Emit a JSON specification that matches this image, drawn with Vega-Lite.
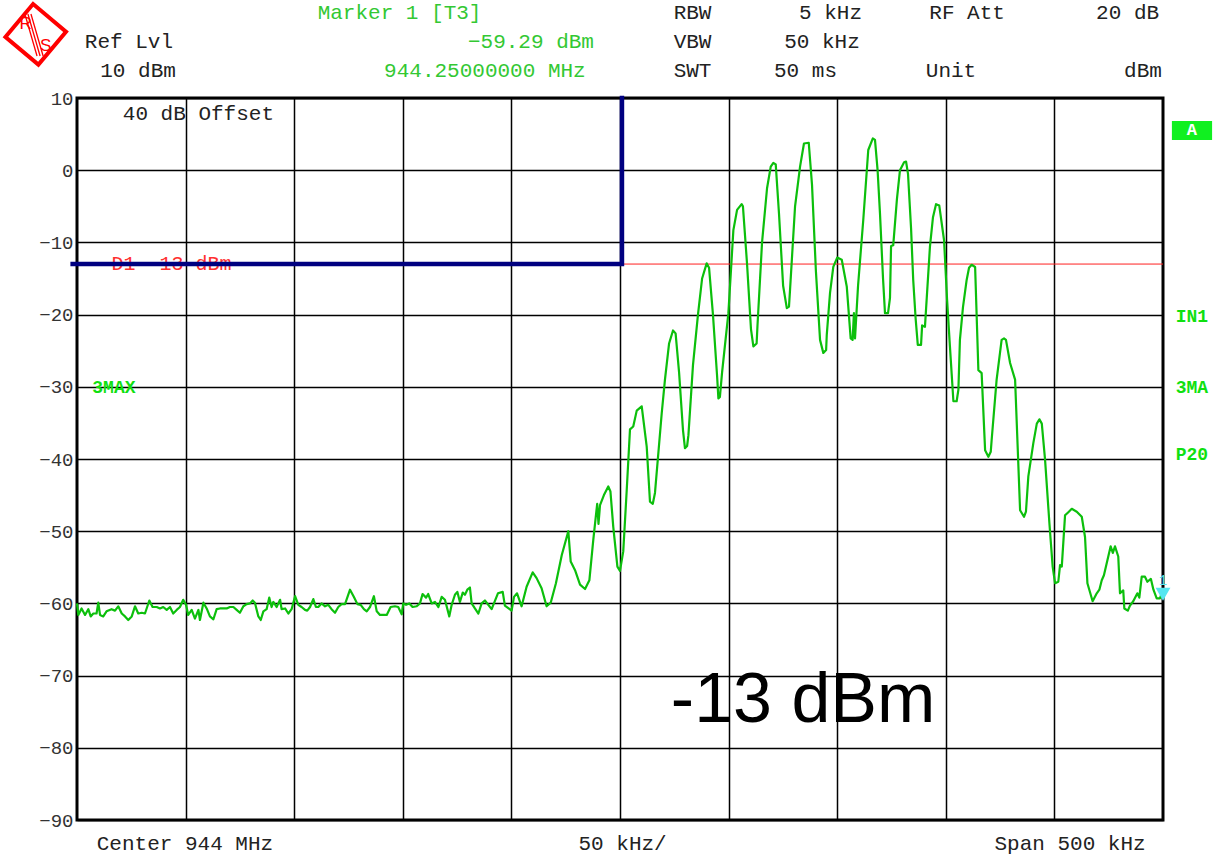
{
  "$schema": "https://vega.github.io/schema/vega-lite/v6.json",
  "width": 1086,
  "height": 722,
  "autosize": {"type": "none"},
  "padding": {"left": 77, "top": 98, "right": 54, "bottom": 36},
  "background": "white",
  "config": {
    "view": {"stroke": "#000", "strokeWidth": 3},
    "text": {"font": "Liberation Mono"}
  },
  "datasets": {
    "trace": [
      {"f": -250, "v": -60.0}, {"f": -249.4, "v": -61.6}, {"f": -247.9, "v": -60.7}, {"f": -246.3, "v": -61.6},
      {"f": -244.8, "v": -60.8}, {"f": -243.7, "v": -61.8}, {"f": -242.5, "v": -61.4}, {"f": -241.0, "v": -61.4},
      {"f": -240.2, "v": -59.9}, {"f": -239.4, "v": -61.6}, {"f": -237.9, "v": -61.8}, {"f": -236.4, "v": -61.1},
      {"f": -234.1, "v": -60.8}, {"f": -232.5, "v": -61.0}, {"f": -231.0, "v": -60.4}, {"f": -229.4, "v": -61.4},
      {"f": -227.9, "v": -61.8}, {"f": -226.4, "v": -62.3}, {"f": -224.8, "v": -61.8}, {"f": -223.3, "v": -60.4},
      {"f": -221.8, "v": -61.4}, {"f": -220.2, "v": -61.3}, {"f": -218.7, "v": -61.4}, {"f": -216.7, "v": -59.6},
      {"f": -215.2, "v": -60.5}, {"f": -213.3, "v": -60.5}, {"f": -211.8, "v": -60.7}, {"f": -210.3, "v": -60.5},
      {"f": -208.7, "v": -60.9}, {"f": -207.2, "v": -60.5}, {"f": -205.7, "v": -61.4}, {"f": -204.1, "v": -60.9},
      {"f": -202.6, "v": -60.5}, {"f": -201.1, "v": -59.5}, {"f": -199.8, "v": -60.2}, {"f": -198.8, "v": -61.6},
      {"f": -197.2, "v": -60.9}, {"f": -195.7, "v": -62.1}, {"f": -194.1, "v": -60.9}, {"f": -193.4, "v": -62.3},
      {"f": -191.8, "v": -59.9}, {"f": -190.3, "v": -60.7}, {"f": -188.8, "v": -61.8}, {"f": -187.2, "v": -62.2},
      {"f": -185.7, "v": -60.8}, {"f": -184.2, "v": -60.7}, {"f": -182.6, "v": -60.7}, {"f": -181.1, "v": -60.7},
      {"f": -179.6, "v": -60.5}, {"f": -178.0, "v": -60.5}, {"f": -176.5, "v": -60.9}, {"f": -175.0, "v": -61.3},
      {"f": -173.4, "v": -60.4}, {"f": -171.9, "v": -60.1}, {"f": -170.4, "v": -60.0}, {"f": -169.1, "v": -59.6},
      {"f": -168.1, "v": -59.9}, {"f": -166.5, "v": -61.8}, {"f": -165.4, "v": -62.3}, {"f": -164.2, "v": -61.1},
      {"f": -162.7, "v": -60.8}, {"f": -161.5, "v": -59.2}, {"f": -160.4, "v": -60.5}, {"f": -159.6, "v": -59.8},
      {"f": -158.1, "v": -60.5}, {"f": -156.5, "v": -59.5}, {"f": -155.8, "v": -60.8}, {"f": -154.2, "v": -60.7},
      {"f": -152.7, "v": -61.4}, {"f": -151.2, "v": -60.8}, {"f": -149.6, "v": -59.0}, {"f": -148.1, "v": -60.2},
      {"f": -146.6, "v": -60.5}, {"f": -145.0, "v": -60.9}, {"f": -144.0, "v": -61.0}, {"f": -142.7, "v": -60.5},
      {"f": -141.2, "v": -59.4}, {"f": -140.0, "v": -60.5}, {"f": -138.9, "v": -60.5}, {"f": -137.4, "v": -60.0},
      {"f": -135.8, "v": -60.4}, {"f": -134.3, "v": -60.2}, {"f": -132.8, "v": -60.8}, {"f": -131.2, "v": -61.3},
      {"f": -129.7, "v": -60.5}, {"f": -128.2, "v": -60.1}, {"f": -126.6, "v": -60.1}, {"f": -124.3, "v": -58.1},
      {"f": -122.5, "v": -59.1}, {"f": -120.9, "v": -60.1}, {"f": -119.4, "v": -60.2}, {"f": -117.9, "v": -60.8},
      {"f": -116.6, "v": -61.1}, {"f": -115.1, "v": -60.5}, {"f": -113.3, "v": -59.0}, {"f": -112.0, "v": -61.1},
      {"f": -110.5, "v": -61.6}, {"f": -109.0, "v": -61.6}, {"f": -107.4, "v": -61.6}, {"f": -105.6, "v": -60.5},
      {"f": -103.6, "v": -60.4}, {"f": -102.1, "v": -60.5}, {"f": -100.5, "v": -61.5}, {"f": -99.8, "v": -60.0},
      {"f": -98.5, "v": -60.2}, {"f": -97.0, "v": -60.0}, {"f": -95.5, "v": -60.5}, {"f": -93.6, "v": -60.4},
      {"f": -92.1, "v": -60.0}, {"f": -90.9, "v": -58.7}, {"f": -89.3, "v": -59.2}, {"f": -88.3, "v": -58.7},
      {"f": -86.7, "v": -60.0}, {"f": -85.2, "v": -59.8}, {"f": -83.6, "v": -60.5}, {"f": -82.1, "v": -59.1},
      {"f": -80.6, "v": -59.5}, {"f": -78.6, "v": -61.8}, {"f": -77.5, "v": -60.2}, {"f": -76.0, "v": -58.8},
      {"f": -74.9, "v": -58.4}, {"f": -73.7, "v": -59.8}, {"f": -72.4, "v": -58.5}, {"f": -71.4, "v": -58.8},
      {"f": -70.3, "v": -58.1}, {"f": -69.1, "v": -57.8}, {"f": -68.3, "v": -60.0}, {"f": -66.8, "v": -60.7},
      {"f": -65.2, "v": -61.4}, {"f": -63.7, "v": -60.0}, {"f": -62.2, "v": -59.6}, {"f": -59.1, "v": -60.8},
      {"f": -56.2, "v": -58.6}, {"f": -54.0, "v": -58.4}, {"f": -53.0, "v": -60.3}, {"f": -49.9, "v": -61.0},
      {"f": -48.8, "v": -59.1}, {"f": -47.4, "v": -58.6}, {"f": -45.3, "v": -60.4}, {"f": -43.0, "v": -57.7},
      {"f": -40.2, "v": -55.7}, {"f": -38.4, "v": -56.5}, {"f": -36.1, "v": -57.9}, {"f": -33.8, "v": -60.4},
      {"f": -31.9, "v": -59.9}, {"f": -29.5, "v": -57.2}, {"f": -26.8, "v": -53.3}, {"f": -23.8, "v": -50.0},
      {"f": -22.7, "v": -54.2}, {"f": -20.7, "v": -55.4}, {"f": -18.4, "v": -57.4}, {"f": -16.1, "v": -58.0},
      {"f": -14.1, "v": -56.8}, {"f": -12.3, "v": -51.2}, {"f": -10.5, "v": -46.2}, {"f": -9.9, "v": -49.0},
      {"f": -9.2, "v": -46.4}, {"f": -7.4, "v": -45.0}, {"f": -5.4, "v": -43.8}, {"f": -4.4, "v": -44.5},
      {"f": -3.1, "v": -49.4}, {"f": -1.2, "v": -54.9}, {"f": 0.0, "v": -55.5}, {"f": 1.5, "v": -52.8},
      {"f": 3.1, "v": -44.3}, {"f": 4.6, "v": -35.9}, {"f": 6.1, "v": -35.5}, {"f": 7.7, "v": -33.3},
      {"f": 10.0, "v": -32.7}, {"f": 12.3, "v": -38.3}, {"f": 13.8, "v": -45.9}, {"f": 15.1, "v": -46.2},
      {"f": 16.1, "v": -44.7}, {"f": 19.2, "v": -33.7}, {"f": 20.7, "v": -29.0}, {"f": 22.6, "v": -24.0},
      {"f": 24.4, "v": -22.2}, {"f": 25.6, "v": -22.6}, {"f": 27.2, "v": -28.0}, {"f": 29.0, "v": -36.0},
      {"f": 29.9, "v": -38.5}, {"f": 30.9, "v": -38.2}, {"f": 31.5, "v": -36.7}, {"f": 33.6, "v": -27.0},
      {"f": 35.9, "v": -20.0}, {"f": 37.8, "v": -15.0}, {"f": 39.9, "v": -12.9}, {"f": 41.0, "v": -13.5},
      {"f": 42.8, "v": -20.0}, {"f": 44.7, "v": -28.5}, {"f": 45.3, "v": -31.6}, {"f": 46.0, "v": -31.4},
      {"f": 47.0, "v": -28.0}, {"f": 49.9, "v": -19.8}, {"f": 52.2, "v": -8.3}, {"f": 53.9, "v": -5.5},
      {"f": 56.0, "v": -4.7}, {"f": 56.6, "v": -5.0}, {"f": 58.5, "v": -13.0}, {"f": 60.3, "v": -22.0},
      {"f": 61.4, "v": -24.4}, {"f": 62.9, "v": -24.0}, {"f": 63.3, "v": -21.5}, {"f": 65.4, "v": -10.0},
      {"f": 67.7, "v": -2.5}, {"f": 69.4, "v": 0.5}, {"f": 70.6, "v": 1.0}, {"f": 71.7, "v": 0.8},
      {"f": 73.2, "v": -6.0}, {"f": 75.1, "v": -16.0}, {"f": 76.8, "v": -19.1}, {"f": 77.8, "v": -18.9},
      {"f": 78.3, "v": -16.5}, {"f": 80.6, "v": -5.0}, {"f": 82.9, "v": 0.5}, {"f": 84.7, "v": 3.7},
      {"f": 86.9, "v": 3.8}, {"f": 88.4, "v": -2.0}, {"f": 90.2, "v": -14.0}, {"f": 92.1, "v": -23.5},
      {"f": 93.6, "v": -25.3}, {"f": 94.9, "v": -24.9}, {"f": 95.2, "v": -22.8}, {"f": 96.7, "v": -17.0},
      {"f": 98.2, "v": -13.4}, {"f": 100.0, "v": -12.1}, {"f": 102.1, "v": -12.4}, {"f": 104.4, "v": -16.1},
      {"f": 106.2, "v": -23.3}, {"f": 107.1, "v": -23.5}, {"f": 107.7, "v": -19.8}, {"f": 108.2, "v": -23.3},
      {"f": 109.6, "v": -16.0}, {"f": 112.0, "v": -6.9}, {"f": 114.3, "v": 2.8}, {"f": 116.4, "v": 4.4},
      {"f": 117.4, "v": 4.2}, {"f": 118.6, "v": 0.0}, {"f": 119.7, "v": -6.0}, {"f": 121.1, "v": -15.0},
      {"f": 122.0, "v": -19.8}, {"f": 123.4, "v": -19.8}, {"f": 124.3, "v": -17.7}, {"f": 124.8, "v": -10.5},
      {"f": 125.8, "v": -10.4}, {"f": 127.5, "v": -4.0}, {"f": 128.9, "v": 0.0}, {"f": 130.8, "v": 1.1},
      {"f": 131.7, "v": 1.2}, {"f": 132.6, "v": -0.5}, {"f": 134.0, "v": -8.0}, {"f": 135.0, "v": -15.2},
      {"f": 136.1, "v": -20.5}, {"f": 137.1, "v": -24.2}, {"f": 138.6, "v": -24.2}, {"f": 139.1, "v": -21.5},
      {"f": 140.4, "v": -21.7}, {"f": 142.7, "v": -10.6}, {"f": 144.1, "v": -6.5}, {"f": 145.5, "v": -4.7},
      {"f": 147.0, "v": -4.9}, {"f": 149.2, "v": -9.7}, {"f": 150.6, "v": -18.0}, {"f": 151.9, "v": -24.4},
      {"f": 153.5, "v": -32.0}, {"f": 155.0, "v": -32.0}, {"f": 155.8, "v": -30.4}, {"f": 156.5, "v": -23.5},
      {"f": 157.9, "v": -19.0}, {"f": 159.6, "v": -15.2}, {"f": 160.7, "v": -13.5}, {"f": 161.9, "v": -13.1},
      {"f": 163.5, "v": -13.4}, {"f": 165.0, "v": -27.7}, {"f": 166.5, "v": -28.1}, {"f": 168.1, "v": -38.8},
      {"f": 169.6, "v": -39.7}, {"f": 170.7, "v": -39.0}, {"f": 171.1, "v": -37.4}, {"f": 173.4, "v": -29.0},
      {"f": 175.7, "v": -23.5}, {"f": 176.8, "v": -23.3}, {"f": 177.7, "v": -23.5}, {"f": 179.6, "v": -26.7},
      {"f": 181.9, "v": -29.0}, {"f": 184.2, "v": -47.1}, {"f": 186.0, "v": -48.0}, {"f": 186.9, "v": -47.3},
      {"f": 188.0, "v": -42.4}, {"f": 190.3, "v": -37.8}, {"f": 191.9, "v": -35.1}, {"f": 193.1, "v": -34.5},
      {"f": 194.2, "v": -35.1}, {"f": 195.7, "v": -40.1}, {"f": 197.7, "v": -48.9}, {"f": 199.2, "v": -54.9},
      {"f": 200.3, "v": -57.2}, {"f": 201.8, "v": -57.0}, {"f": 202.6, "v": -54.7}, {"f": 203.4, "v": -54.9},
      {"f": 204.9, "v": -47.8}, {"f": 206.3, "v": -47.4}, {"f": 208.0, "v": -46.9}, {"f": 210.3, "v": -47.3},
      {"f": 212.6, "v": -48.0}, {"f": 214.1, "v": -50.8}, {"f": 215.2, "v": -57.2}, {"f": 217.6, "v": -59.7},
      {"f": 219.5, "v": -58.6}, {"f": 220.7, "v": -58.1}, {"f": 221.8, "v": -56.8}, {"f": 222.8, "v": -56.1},
      {"f": 225.9, "v": -52.1}, {"f": 226.9, "v": -53.0}, {"f": 227.9, "v": -52.1}, {"f": 229.4, "v": -53.5},
      {"f": 230.2, "v": -58.6}, {"f": 231.7, "v": -58.2}, {"f": 232.2, "v": -60.7}, {"f": 233.8, "v": -61.0},
      {"f": 234.8, "v": -60.3}, {"f": 236.3, "v": -59.7}, {"f": 238.2, "v": -58.6}, {"f": 239.1, "v": -59.2},
      {"f": 240.2, "v": -56.3}, {"f": 241.7, "v": -56.3}, {"f": 242.8, "v": -57.0}, {"f": 244.4, "v": -56.6},
      {"f": 245.6, "v": -58.1}, {"f": 247.1, "v": -59.3}, {"f": 248.6, "v": -59.3}, {"f": 249.4, "v": -58.6},
      {"f": 250.0, "v": -59.29}
    ],
    "displayLine": [
      {"f": -250, "v": -13}, {"f": 250, "v": -13}
    ],
    "limitLine": [
      {"o": 1, "f": -252, "v": -13}, {"o": 2, "f": 0.9, "v": -13}, {"o": 3, "f": 0.9, "v": 10}
    ],
    "marker": [
      {"f": 250, "v": -59.29, "t": "1"}
    ],
    "headerBlack": [
      {"f": -226.1, "v": 17.76, "t": "Ref Lvl"},
      {"f": -221.9, "v": 13.74, "t": "10 dBm"},
      {"f": 33.4, "v": 21.77, "t": "RBW"},
      {"f": 96.9, "v": 21.77, "t": "5 kHz"},
      {"f": 159.8, "v": 21.77, "t": "RF Att"},
      {"f": 233.7, "v": 21.77, "t": "20 dB"},
      {"f": 33.4, "v": 17.76, "t": "VBW"},
      {"f": 93.0, "v": 17.76, "t": "50 kHz"},
      {"f": 33.4, "v": 13.74, "t": "SWT"},
      {"f": 85.4, "v": 13.74, "t": "50 ms"},
      {"f": 152.4, "v": 13.74, "t": "Unit"},
      {"f": 240.8, "v": 13.74, "t": "dBm"},
      {"f": -194.1, "v": 7.78, "t": "40 dB Offset"},
      {"f": -200.3, "v": -93.3, "t": "Center 944 MHz"},
      {"f": 1.2, "v": -93.3, "t": "50 kHz/"},
      {"f": 207.2, "v": -93.3, "t": "Span 500 kHz"}
    ],
    "headerGreen": [
      {"f": -101.5, "v": 21.77, "t": "Marker 1 [T3]"},
      {"f": -41.0, "v": 17.76, "t": "−59.29 dBm"},
      {"f": -62.2, "v": 13.74, "t": "944.25000000 MHz"}
    ],
    "lineLabel": [
      {"f": -206.5, "v": -13, "t": "D1 -13 dBm"}
    ],
    "statusLabels": [
      {"f": -233.0, "v": -30.2, "t": "3MAX"},
      {"f": 263.3, "v": -20.3, "t": "IN1"},
      {"f": 263.3, "v": -30.2, "t": "3MA"},
      {"f": 263.3, "v": -39.4, "t": "P20"}
    ],
    "traceBox": [
      {"f": 254.1, "f2": 272.6, "v": 6.8, "v2": 4.18}
    ],
    "traceName": [
      {"f": 263.3, "v": 5.5, "t": "A"}
    ],
    "logo": [
      {"f": -269.0, "v": 18.82}
    ],
    "logoStripes": [
      {"f": -274.0, "v": 21.63, "f2": -268.4, "v2": 15.82},
      {"f": -272.6, "v": 21.63, "f2": -267.0, "v2": 15.82},
      {"f": -271.2, "v": 21.63, "f2": -265.6, "v2": 15.82}
    ],
    "logoLetters": [
      {"f": -273.6, "v": 20.3, "t": "R"},
      {"f": -264.4, "v": 17.2, "t": "S"}
    ],
    "level": [
      {"f": 84.3, "v": -76.4, "t": "-13 dBm"}
    ]
  },
  "encoding": {
    "x": {
      "field": "f",
      "type": "quantitative",
      "scale": {"domain": [-250, 250], "nice": false, "zero": false},
      "axis": {
        "title": null,
        "labels": false,
        "ticks": false,
        "domain": false,
        "grid": true,
        "gridColor": "#000",
        "gridWidth": 1.5,
        "gridOpacity": 1,
        "values": [-200, -150, -100, -50, 0, 50, 100, 150, 200]
      }
    },
    "y": {
      "field": "v",
      "type": "quantitative",
      "scale": {"domain": [-90, 10], "nice": false, "zero": false},
      "axis": {
        "title": null,
        "ticks": false,
        "domain": false,
        "grid": true,
        "gridColor": "#000",
        "gridWidth": 1.5,
        "gridOpacity": 1,
        "labelFont": "Liberation Mono",
        "labelFontSize": 19,
        "labelColor": "#333",
        "labelPadding": 4,
        "values": [-90, -80, -70, -60, -50, -40, -30, -20, -10, 0, 10]
      }
    }
  },
  "layer": [
    {
      "data": {"name": "displayLine"},
      "mark": {"type": "line", "color": "#ff2020", "strokeWidth": 1}
    },
    {
      "data": {"name": "lineLabel"},
      "mark": {"type": "text", "color": "#ff3030", "fontSize": 20, "align": "center", "baseline": "middle"},
      "encoding": {"text": {"field": "t"}}
    },
    {
      "data": {"name": "limitLine"},
      "mark": {"type": "line", "color": "#000080", "strokeWidth": 4.5, "strokeCap": "square"},
      "encoding": {"order": {"field": "o"}}
    },
    {
      "data": {"name": "trace"},
      "mark": {"type": "line", "color": "#0cbf0c", "strokeWidth": 2.2, "strokeJoin": "round"}
    },
    {
      "data": {"name": "marker"},
      "mark": {"type": "point", "shape": "triangle-down", "filled": true, "color": "#55e6f0", "size": 220, "opacity": 1, "yOffset": -4}
    },
    {
      "data": {"name": "marker"},
      "mark": {"type": "text", "color": "#55e6f0", "fontSize": 14, "yOffset": -17, "align": "center"},
      "encoding": {"text": {"field": "t"}}
    },
    {
      "data": {"name": "headerBlack"},
      "mark": {"type": "text", "color": "#222", "fontSize": 21, "align": "center", "baseline": "middle"},
      "encoding": {"text": {"field": "t"}}
    },
    {
      "data": {"name": "headerGreen"},
      "mark": {"type": "text", "color": "#33c833", "fontSize": 21, "align": "center", "baseline": "middle"},
      "encoding": {"text": {"field": "t"}}
    },
    {
      "data": {"name": "statusLabels"},
      "mark": {"type": "text", "color": "#10e010", "fontSize": 18, "fontWeight": "bold", "align": "center", "baseline": "middle"},
      "encoding": {"text": {"field": "t"}}
    },
    {
      "data": {"name": "traceBox"},
      "mark": {"type": "rect", "color": "#10f020"},
      "encoding": {"x2": {"field": "f2"}, "y2": {"field": "v2"}}
    },
    {
      "data": {"name": "traceName"},
      "mark": {"type": "text", "color": "#ffffff", "fontSize": 17, "fontWeight": "bold", "align": "center", "baseline": "middle"},
      "encoding": {"text": {"field": "t"}}
    },
    {
      "data": {"name": "logo"},
      "mark": {"type": "point", "shape": "square", "angle": 40, "size": 1850, "filled": false, "stroke": "#ff0000", "strokeWidth": 4, "fill": "#ffffff", "fillOpacity": 1, "opacity": 1}
    },
    {
      "data": {"name": "logoStripes"},
      "mark": {"type": "rule", "color": "#ff0000", "strokeWidth": 1.3},
      "encoding": {"x2": {"field": "f2"}, "y2": {"field": "v2"}}
    },
    {
      "data": {"name": "logoLetters"},
      "mark": {"type": "text", "font": "Liberation Sans", "color": "#ff0000", "fontSize": 17, "align": "center", "baseline": "middle"},
      "encoding": {"text": {"field": "t"}}
    },
    {
      "data": {"name": "level"},
      "mark": {"type": "text", "font": "Liberation Sans", "color": "#000", "fontSize": 70, "align": "center", "baseline": "alphabetic"},
      "encoding": {"text": {"field": "t"}}
    }
  ]
}
